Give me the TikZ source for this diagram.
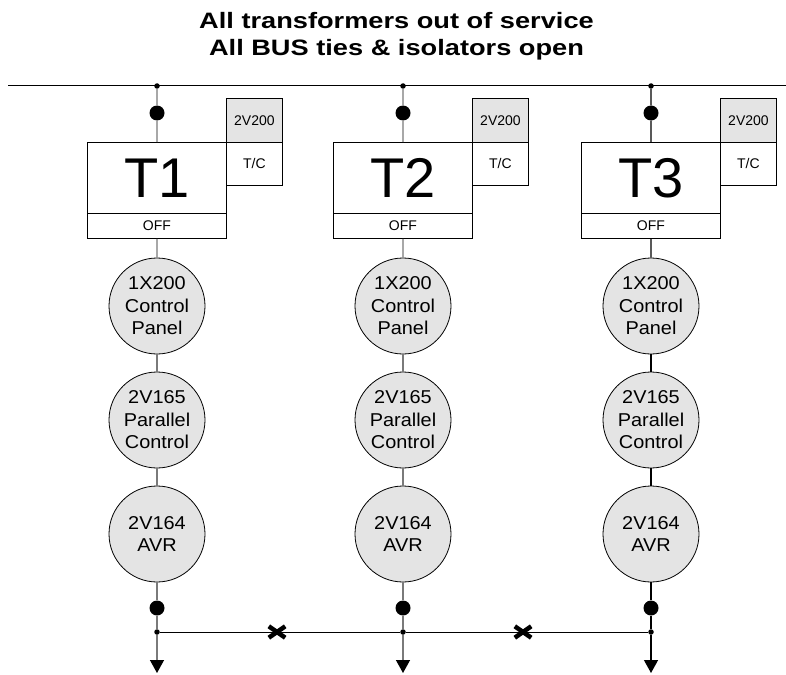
\documentclass[tikz,border=0pt]{standalone}
\usepackage{fontspec}
\setmainfont{Liberation Sans}
\newfontfamily\titlefont[FakeStretch=1.22]{Liberation Sans}
\newfontfamily\unitfont[FakeStretch=1.07]{Liberation Sans}
\usetikzlibrary{arrows.meta}
\definecolor{lgrey}{HTML}{E4E4E4}
\definecolor{wire}{HTML}{7A7A7A}
\begin{document}
\begin{tikzpicture}[x=1pt,y=-1pt,
  titlestyle/.style={anchor=base,font=\titlefont\fontsize{22.3}{27}\selectfont\bfseries,inner sep=0pt},
  smalldot/.style={circle,fill=black,inner sep=0pt,minimum size=5.5pt},
  bigdot/.style={circle,fill=black,inner sep=0pt,minimum size=15pt},
  tbox/.style={draw=black,line width=0.9pt,fill=white,anchor=north west,minimum width=139pt,minimum height=71pt,inner sep=0pt,font=\fontsize{56}{56}\selectfont},
  offbox/.style={draw=black,line width=0.9pt,fill=white,anchor=north west,minimum width=139pt,minimum height=25pt,inner sep=0pt,font=\fontsize{14}{15}\selectfont},
  labbox/.style={draw=black,line width=0.9pt,fill=lgrey,anchor=north west,minimum width=56pt,minimum height=44pt,inner sep=0pt,font=\fontsize{14}{15}\selectfont},
  tcbox/.style={draw=black,line width=0.9pt,fill=white,anchor=north west,minimum width=56pt,minimum height=43pt,inner sep=0pt,font=\fontsize{14}{15}\selectfont},
  unit/.style={circle,draw=black,line width=0.8pt,fill=lgrey,minimum size=96pt,inner sep=0pt,align=center,font=\unitfont\fontsize{18.6}{22.5}\selectfont},
  xmark/.style={inner sep=0pt,minimum width=16pt,minimum height=11pt},
  xstroke/.style={line width=4.5pt},
  wireline/.style={line width=1.3pt}
]
\useasboundingbox (0,0) rectangle (786,674);
\node[titlestyle] (title1) at (396.5,28.5) {All transformers out of service};
\node[titlestyle] (title2) at (396.5,55.5) {All BUS ties \& isolators open};
\coordinate (busL) at (8,86);
\coordinate (busR) at (786,86);
\draw[line width=1pt] (busL) -- (busR);
\foreach \i/\cx/\lc in {1/157/wire,2/403/wire,3/651/black}{
  \node[smalldot] (sd\i) at (\cx,86) {};
  \node[bigdot] (bd\i) at (\cx,113) {};
  \node[tbox] (T\i) at (\cx-70,142) {T\i};
  \node[offbox] (off\i) at (\cx-70,213) {OFF};
  \node[labbox] (lab\i) at (\cx+69,98) {2V200};
  \node[tcbox] (tc\i) at (\cx+69,142) {T/C};
  \node[unit] (ca\i) at (\cx,306) {1X200\\Control\\Panel};
  \node[unit] (cb\i) at (\cx,420) {2V165\\Parallel\\Control};
  \node[unit] (cc\i) at (\cx,534) {2V164\\AVR};
  \node[bigdot] (bb\i) at (\cx,608) {};
  \node[smalldot] (bs\i) at (\cx,632) {};
  \coordinate (arr\i) at (\cx,673);
  \draw[wireline,draw=\lc] (sd\i) -- (bd\i) -- (T\i.north);
  \draw[wireline,draw=\lc] (off\i.south) -- (ca\i);
  \draw[wireline,draw=\lc] (ca\i) -- (cb\i);
  \draw[wireline,draw=\lc] (cb\i) -- (cc\i);
  \draw[wireline,draw=\lc] (cc\i) -- (bb\i) -- (bs\i);
  \draw[wireline,draw=\lc,-{Triangle[length=13pt,width=14pt,color=black]}] (bs\i) -- (arr\i);
}
\draw[line width=1pt] (bs1) -- (bs2) -- (bs3);
\node[xmark] (x1) at (277,632) {};
\node[xmark] (x2) at (523,632) {};
\draw[xstroke] (x1.north west) -- (x1.south east) (x1.south west) -- (x1.north east);
\draw[xstroke] (x2.north west) -- (x2.south east) (x2.south west) -- (x2.north east);
\end{tikzpicture}
\end{document}
